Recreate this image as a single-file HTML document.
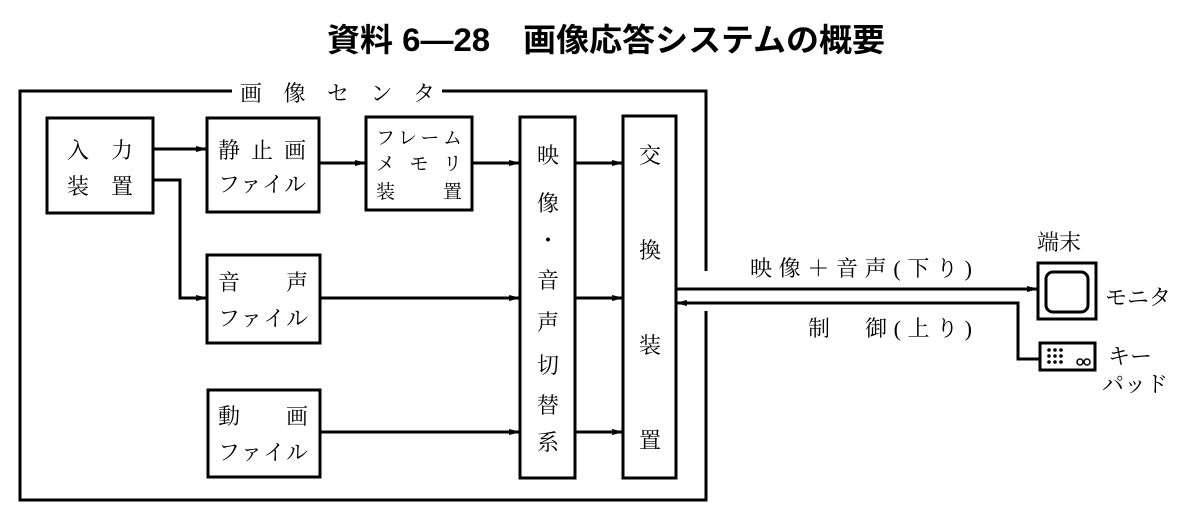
<!DOCTYPE html>
<html><head><meta charset="utf-8"><style>
html,body{margin:0;padding:0;background:#fff;}
svg{display:block}
.t{font-family:"Liberation Serif","Noto Serif CJK SC",serif;font-size:22px;fill:#000}
.s{font-family:"Liberation Serif","Noto Serif CJK SC",serif;font-size:19px;fill:#000}
</style></head><body>
<svg width="1201" height="521" viewBox="0 0 1201 521" xmlns="http://www.w3.org/2000/svg">
<defs><marker id="a" markerWidth="12" markerHeight="8" refX="11" refY="4" orient="auto" markerUnits="userSpaceOnUse"><path d="M0,1 L12,4 L0,7 Z" fill="#000"/></marker></defs>
<text x="327" y="51" textLength="558" lengthAdjust="spacingAndGlyphs" style="font-family:'Liberation Sans','Noto Sans CJK JP',sans-serif;font-size:32px;font-weight:bold">資料 6—28　画像応答システムの概要</text>
<g fill="none" stroke="#000" stroke-width="3">
<path d="M232,91 H20 V500 H706 V311 M706,271 V91 H442"/>
<rect x="47" y="118" width="106" height="95"/>
<rect x="207" y="118" width="112" height="94"/>
<rect x="366" y="117" width="106" height="93"/>
<rect x="520" y="117" width="55" height="361"/>
<rect x="623" y="116" width="53" height="362"/>
<rect x="207" y="255" width="113" height="88"/>
<rect x="208" y="390" width="112" height="87"/>
<rect x="1038" y="263" width="58" height="56"/>
<rect x="1046" y="272" width="42" height="40" rx="7"/>
<rect x="1040" y="343" width="55" height="27"/>
</g>
<g stroke="#000" stroke-width="3" fill="none" marker-end="url(#a)">
<path d="M153,149 H207"/>
<path d="M153,180 H180 V298 H207"/>
<path d="M319,163 H366"/>
<path d="M472,163 H520"/>
<path d="M320,298 H520"/>
<path d="M320,432 H520"/>
<path d="M575,163 H623"/>
<path d="M575,298 H623"/>
<path d="M575,432 H623"/>
<path d="M676,289 H1038"/>
<path d="M1040,359 H1018 V303 H676"/>
</g>
<g fill="#000">
<circle cx="1049" cy="350" r="1.8"/><circle cx="1055" cy="350" r="1.8"/><circle cx="1061" cy="350" r="1.8"/>
<circle cx="1049" cy="356" r="1.8"/><circle cx="1055" cy="356" r="1.8"/><circle cx="1061" cy="356" r="1.8"/>
<circle cx="1049" cy="362" r="1.8"/><circle cx="1055" cy="362" r="1.8"/><circle cx="1061" cy="362" r="1.8"/>
</g>
<g fill="none" stroke="#000" stroke-width="1.5"><circle cx="1080" cy="362" r="3"/><circle cx="1087" cy="362" r="3"/></g>
<text class="t" x="240" y="101" textLength="195" lengthAdjust="spacing">画像センタ</text>
<text class="t" x="67" y="158" textLength="66">入力</text>
<text class="t" x="67" y="194" textLength="66">装置</text>
<text class="t" x="218" y="158" textLength="88">静止画</text>
<text class="t" x="218" y="192" textLength="88">ファイル</text>
<text class="s" x="376" y="144" textLength="86">フレーム</text>
<text class="s" x="376" y="170" textLength="86">メ モ リ</text>
<text class="s" x="376" y="198" textLength="86">装　 置</text>
<text class="t" x="218" y="290" textLength="90">音　声</text>
<text class="t" x="218" y="326" textLength="90">ファイル</text>
<text class="t" x="218" y="424" textLength="90">動　画</text>
<text class="t" x="218" y="460" textLength="90">ファイル</text>
<g class="t" text-anchor="middle">
<text x="548" y="163">映</text><text x="548" y="211">像</text><text x="548" y="248">・</text>
<text x="548" y="288">音</text><text x="548" y="330">声</text><text x="548" y="373">切</text>
<text x="548" y="413">替</text><text x="548" y="450">系</text>
<text x="650" y="163">交</text><text x="650" y="258">換</text><text x="650" y="353">装</text><text x="650" y="448">置</text>
</g>
<text class="t" x="750" y="276" textLength="222">映像＋音声(下り)</text>
<text class="t" x="808" y="336" textLength="164">制　御(上り)</text>
<text class="t" x="1037" y="250">端末</text>
<text class="t" x="1105" y="305">モニタ</text>
<text class="t" x="1108" y="364">キー</text>
<text class="t" x="1102" y="392">パッド</text>
</svg>
</body></html>
